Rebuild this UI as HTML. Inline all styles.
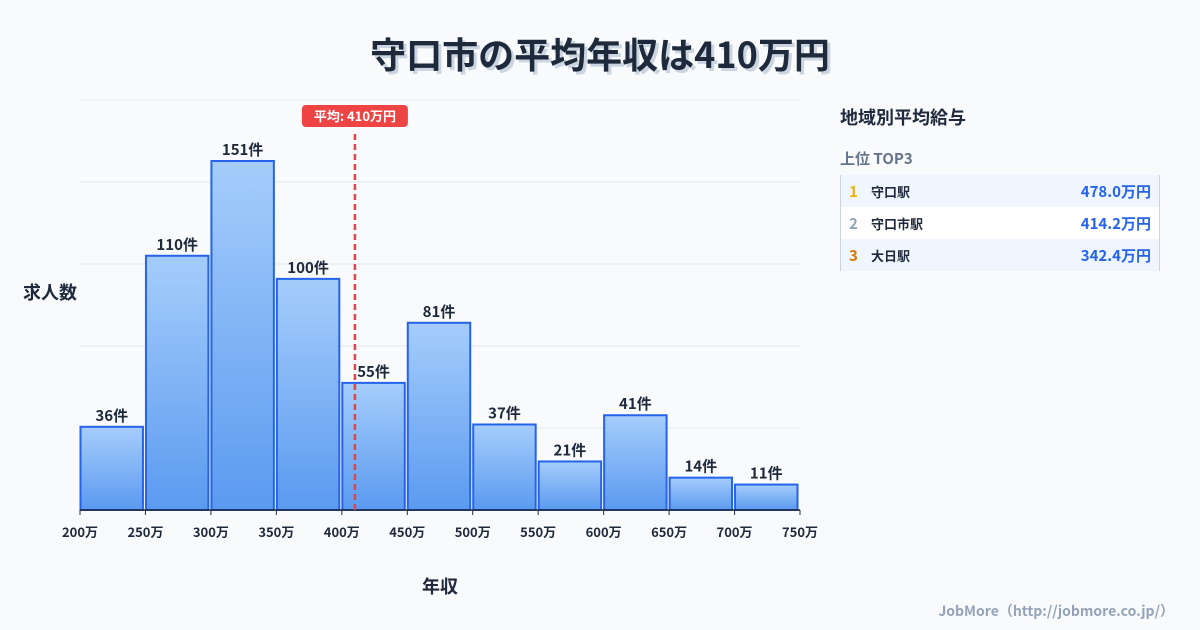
<!DOCTYPE html>
<html><head><meta charset="utf-8">
<style>
body{margin:0;width:1200px;height:630px;background:#f8fafc;font-family:"Liberation Sans","Noto Sans CJK JP",sans-serif;overflow:hidden;position:relative;color:#1e293b}
.title{position:absolute;top:27px;left:0;width:1200px;text-align:center;font-size:36px;font-weight:bold;color:#1e293b;text-shadow:3px 3px 0 #cbd5e1;font-family:"Noto Sans CJK JP",sans-serif}
.panel{position:absolute;left:840px;top:104px;width:320px;font-family:"Noto Sans CJK JP",sans-serif}
.ph{font-size:18px;font-weight:bold;color:#1e293b}
.sub{margin-top:18px;font-size:15px;font-weight:bold;color:#64748b}
.tbl{margin-top:6px;border-left:1px solid #cbd5e1;border-right:1px solid #cbd5e1}
.row{height:32px;display:flex;align-items:center;font-size:13px;font-weight:bold;padding:0 8px}
.row .n{width:22px;font-size:15px}
.row .s{flex:1;color:#1e293b}
.row .v{color:#2563eb;font-size:15px}
.foot{position:absolute;right:26px;top:601px;font-size:14px;color:#94a3b8;font-weight:bold;font-family:"Noto Sans CJK JP",sans-serif}
</style></head><body>
<div class="title">守口市の平均年収は410万円</div>
<svg id="chart" width="830" height="630" style="position:absolute;left:0;top:0"></svg>
<div class="panel">
<div class="ph">地域別平均給与</div>
<div class="sub">上位 TOP3</div>
<div class="tbl">
<div class="row" style="background:#eff6ff"><span class="n" style="color:#eab308">1</span><span class="s">守口駅</span><span class="v">478.0万円</span></div>
<div class="row" style="background:#fff"><span class="n" style="color:#94a3b8">2</span><span class="s">守口市駅</span><span class="v">414.2万円</span></div>
<div class="row" style="background:#eff6ff"><span class="n" style="color:#d97706">3</span><span class="s">大日駅</span><span class="v">342.4万円</span></div>
</div></div>
<div class="foot">JobMore（http://jobmore.co.jp/）</div>
<script>
const categories=["200万","250万","300万","350万","400万","450万","500万","550万","600万","650万","700万"];
const tickLabels=["200万","250万","300万","350万","400万","450万","500万","550万","600万","650万","700万","750万"];
const counts=[36,110,151,100,55,81,37,21,41,14,11];
const average=[410];
const xMin=200,xMax=750,yMax=177.4;
const L=80,R=800,T=100,B=510;
const sx=v=>L+(v-xMin)/(xMax-xMin)*(R-L);
const sy=v=>B-v/yMax*(B-T);
const svg=document.getElementById('chart');
const NS='http://www.w3.org/2000/svg';
function mk(t,a){const e=document.createElementNS(NS,t);for(const k in a)e.setAttribute(k,a[k]);svg.appendChild(e);return e;}
const defs=mk('defs',{});
defs.innerHTML='<linearGradient id="g" x1="0" y1="0" x2="0" y2="1"><stop offset="0" stop-color="#a5cdfb"/><stop offset="1" stop-color="#5b9af0"/></linearGradient>';
for(let i=0;i<=5;i++){const y=T+i*(B-T)/5;const g=mk('line',{x1:L,x2:R,y1:y,y2:y,stroke:'#e2e8f0','stroke-width':1});

}
const bw=(R-L)/categories.length;
counts.forEach((c,i)=>{const x0=sx(xMin+i*50);const y=sy(c);
const r=mk('rect',{x:x0+0.5,y:y,width:bw-3,height:B-y,fill:'url(#g)',stroke:'#2563eb','stroke-width':2});


const t=mk('text',{x:x0+bw/2-1,y:y-6,'text-anchor':'middle','font-size':15,'font-weight':'bold',fill:'#1e293b','font-family':'"Noto Sans CJK JP",sans-serif'});t.textContent=c+'件';

});
mk('line',{x1:L,x2:R,y1:B,y2:B,stroke:'#1e293b','stroke-width':1.5});
tickLabels.forEach((lab,i)=>{const x=sx(xMin+i*50);mk('line',{x1:x,x2:x,y1:B,y2:B+5,stroke:'#1e293b'});
const t=mk('text',{x:x,y:B+27,'text-anchor':'middle','font-size':13,'font-weight':'bold',fill:'#1e293b','font-family':'"Noto Sans CJK JP",sans-serif'});t.textContent=lab;

});
const ax=sx(average[0]);
const al=mk('line',{x1:ax,x2:ax,y1:134,y2:B,stroke:'#e04444','stroke-width':2.5,'stroke-dasharray':'6,4'});


const ab=mk('rect',{x:ax-53,y:105,width:106,height:22,rx:4,fill:'#ef4444'});


const at=mk('text',{x:ax,y:121,'text-anchor':'middle','font-size':13,'font-weight':'bold',fill:'#fff','font-family':'"Noto Sans CJK JP",sans-serif'});at.textContent='平均: '+average[0]+'万円';


const yt=mk('text',{x:50,y:299,'text-anchor':'middle','font-size':18,'font-weight':'bold',fill:'#1e293b','font-family':'"Noto Sans CJK JP",sans-serif'});yt.textContent='求人数';


const xt=mk('text',{x:440,y:593,'text-anchor':'middle','font-size':18,'font-weight':'bold',fill:'#1e293b','font-family':'"Noto Sans CJK JP",sans-serif'});xt.textContent='年収';


</script>
</body></html>
